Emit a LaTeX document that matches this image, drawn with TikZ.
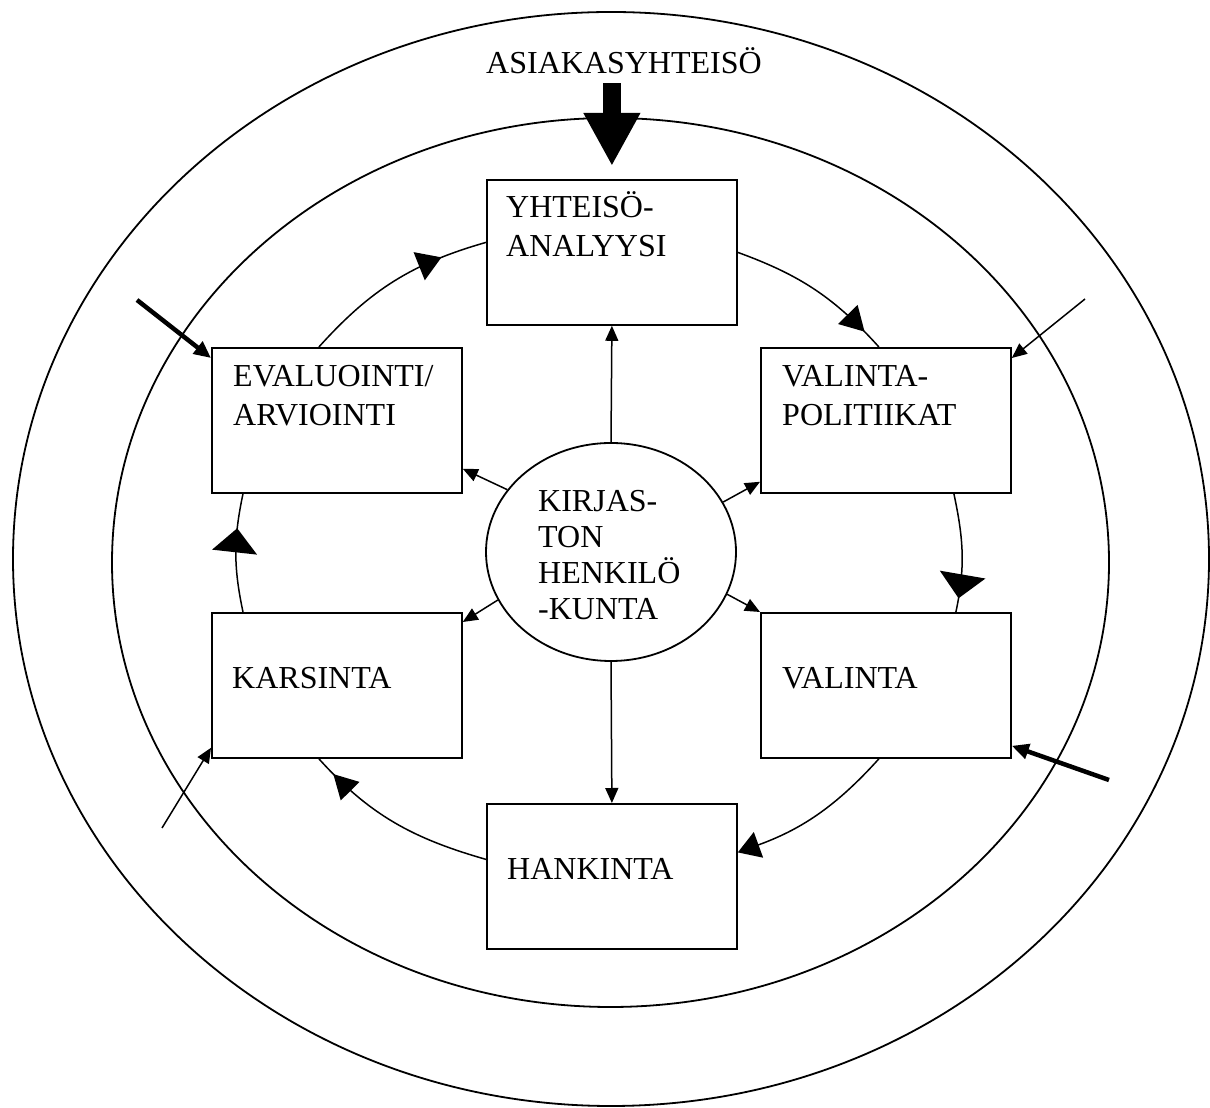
\documentclass[tikz,border=0pt]{standalone}
\usepackage{fontspec}
\setmainfont{Liberation Serif}
\usepackage{tikz}
\usetikzlibrary{shapes,arrows.meta,positioning,decorations.markings}
\tikzstyle{laatikko} = [draw, rectangle, line width=1.8pt, minimum width=250pt, minimum height=145pt, inner sep=0pt, anchor=north west]
\tikzstyle{teksti} = [anchor=base west, align=left, inner sep=0pt, font=\fontsize{32}{39}\selectfont]
\tikzstyle{rengas} = [draw, line width=1.8pt]
\tikzstyle{sade} = [line width=1.5pt, -{Triangle[length=15pt,width=13pt]}]
\tikzstyle{paksu} = [line width=4.5pt, -{Triangle[length=17pt,width=15pt]}]
\tikzstyle{kaari} = [line width=1.5pt]
\tikzset{karki/.style 2 args={postaction={decorate, decoration={markings, mark=at position #1 with {\arrow{Triangle[length=24pt,width=#2]}}}}}}

\begin{document}
\begin{tikzpicture}[x=1pt,y=1pt]
\useasboundingbox (0,0) rectangle (1210,1108);
% renkaat
\draw[rengas] (611,549) ellipse [x radius=598, y radius=547];
\draw[rengas] (610.5,545.5) ellipse [x radius=498.5, y radius=444.5];

% vaiheet
\node[laatikko] (yht) at (486,929) {};
\node[laatikko] (eval) at (211,761) {};
\node[laatikko] (valpol) at (760,761) {};
\node[laatikko] (kars) at (211,496) {};
\node[laatikko] (valinta) at (760,496) {};
\node[laatikko] (hank) at (486,305) {};
\node[draw, ellipse, line width=1.8pt, minimum width=250pt, minimum height=218pt] (staff) at (611,556) {};

% tekstit (base = viimeinen rivi)
\node[teksti] (yhtteksti) at ([shift={(20,-78)}]yht.north west) {YHTEISÖ-\\ANALYYSI};
\node[teksti] (evalteksti) at ([shift={(22,-79)}]eval.north west) {EVALUOINTI/\\ARVIOINTI};
\node[teksti] (valpolteksti) at ([shift={(22,-79)}]valpol.north west) {VALINTA-\\POLITIIKAT};
\node[teksti] (karsteksti) at ([shift={(21,-77)}]kars.north west) {KARSINTA};
\node[teksti] (valintateksti) at ([shift={(22,-77)}]valinta.north west) {VALINTA};
\node[teksti] (hankteksti) at ([shift={(21,-77)}]hank.north west) {HANKINTA};
\node[teksti, font=\fontsize{32}{36}\selectfont] (staffteksti) at (538,488) {KIRJAS-\\TON\\HENKILÖ\\-KUNTA};
\node[teksti] (asiakas) at (486,1034) {ASIAKASYHTEISÖ};

% asiakasyhteisö
\draw[line width=18pt, shorten <=9pt, shorten >=13pt, -{Triangle[length=53pt,width=53pt]}] (yht.north |- asiakas.south) -- (yht.north);

% henkilökunta
\draw[sade] (staff.north) -- (yht.south);
\draw[sade] (staff.south) -- (hank.north);
\draw[sade] (staff.149) -- ([yshift=25pt]eval.south east);
\draw[sade] (staff.24) -- ([yshift=12pt]valpol.south west);
\draw[sade] (staff.203) -- ([yshift=-10pt]kars.north east);
\draw[sade] (staff.340) -- (valinta.north west);

% kierto
\draw[kaari, karki={-21pt}{27pt}] (yht.east) to[out=-20, in=132] ([xshift=-7pt]valpol.north);
\draw[kaari, karki={-14pt}{46pt}] ([xshift=68pt]valpol.south) to[out=-78, in=78] ([xshift=70pt]valinta.north);
\draw[kaari, -{Triangle[length=22pt,width=27pt]}] ([xshift=-7pt]valinta.south) to[out=-132, in=20] ([yshift=24pt]hank.east);
\draw[kaari, karki={-21pt}{26pt}] ([yshift=17pt]hank.west) to[out=164, in=-48] ([xshift=-18pt]kars.south);
\draw[kaari, karki={-35pt}{45pt}] ([xshift=32pt]kars.north west) to[out=102, in=-102] ([xshift=32pt]eval.south west);
\draw[kaari, karki={-47pt}{30pt}] ([xshift=-18pt]eval.north) to[out=48, in=196] ([yshift=10pt]yht.west);

% ulkoa
\coordinate (evalulko) at (137,808);
\coordinate (valpolulko) at (1085,809);
\coordinate (valintaulko) at (1109,328);
\coordinate (karsulko) at (162,280);
\draw[paksu] (evalulko) -- ([yshift=-11pt]eval.north west);
\draw[sade] (valpolulko) -- ([yshift=-11pt]valpol.north east);
\draw[paksu] (valintaulko) -- ([yshift=13pt]valinta.south east);
\draw[sade] (karsulko) -- ([yshift=11pt]kars.south west);
\end{tikzpicture}
\end{document}
